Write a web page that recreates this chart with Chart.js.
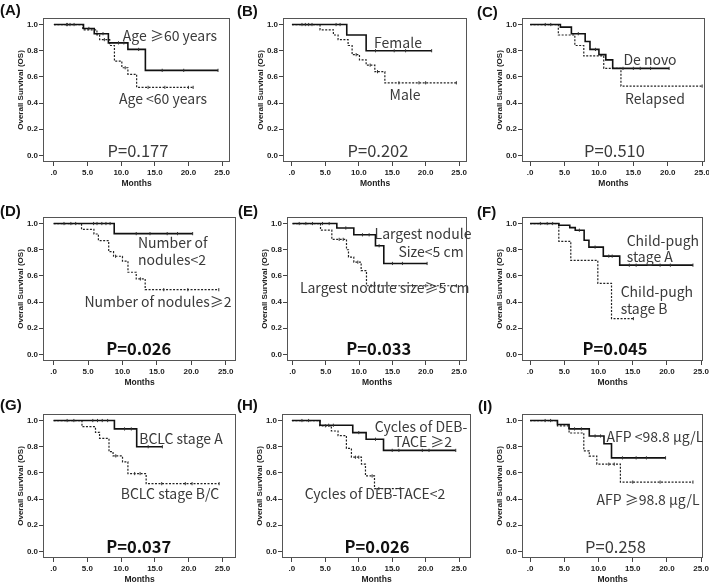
<!DOCTYPE html>
<html><head><meta charset="utf-8">
<script src="https://cdn.jsdelivr.net/npm/chart.js@4.4.1/dist/chart.umd.min.js"></script>
<style>
html,body{margin:0;padding:0;background:#fff;width:709px;height:584px;overflow:hidden;position:relative;}
canvas.cv{position:absolute;}
.lbl{position:absolute;font-family:"Noto Sans CJK SC","Noto Sans",sans-serif;color:#3a3a3a;white-space:nowrap;line-height:1;}
.pl{position:absolute;font-family:"Liberation Sans",Arial,sans-serif;font-weight:bold;font-size:15px;color:#111;line-height:1;transform:translate(0,-50%);}
</style></head><body>
<script>
// ---- axis ticks ----
const xTickValues = [0, 5, 10, 15, 20, 25];
const xTickLabels = ['.0', '5.0', '10.0', '15.0', '20.0', '25.0'];
const yTickValues = [0, 0.2, 0.4, 0.6, 0.8, 1.0];
const yTickLabels = ['0.0', '0.2', '0.4', '0.6', '0.8', '1.0'];

// ---- (A) Age ----
const A_ge60_t = [0, 4.4, 6.0, 8.1, 11.0, 13.6, 24.4];
const A_ge60_s = [1, 0.97, 0.93, 0.86, 0.81, 0.65, 0.65];
const A_ge60_c = [1.9, 2.4, 5.2, 7.3, 9.6, 10.4, 12.6, 16.1, 19.3, 24.4];
const A_lt60_t = [0, 4.3, 6.4, 6.8, 8.3, 9.0, 10.1, 11.0, 12.3, 20.7];
const A_lt60_s = [1, 0.96, 0.92, 0.885, 0.84, 0.72, 0.67, 0.62, 0.52, 0.52];
const A_lt60_c = [2.0, 3.0, 7.5, 10.6, 14.0, 16.5, 20.0, 20.7];
// ---- (B) Sex ----
const B_fem_t = [0, 8.2, 11.1, 20.9];
const B_fem_s = [1, 0.92, 0.80, 0.80];
const B_fem_c = [2.0, 3.0, 6.6, 7.2, 12.5, 15.3, 17.0, 20.9];
const B_male_t = [0, 4.2, 6.2, 6.9, 8.4, 9.0, 10.1, 11.1, 12.4, 13.9, 24.6];
const B_male_s = [1, 0.96, 0.92, 0.885, 0.84, 0.77, 0.73, 0.69, 0.64, 0.555, 0.555];
const B_male_c = [1.5, 2.5, 9.6, 11.7, 12.8, 16.0, 19.0, 20.0, 24.6];
// ---- (C) Disease status ----
const C_denovo_t = [0, 4.4, 6.0, 8.0, 8.7, 10.0, 11.0, 12.0, 20.2];
const C_denovo_s = [1, 0.98, 0.93, 0.87, 0.81, 0.77, 0.73, 0.665, 0.665];
const C_denovo_c = [2.2, 3.0, 7.0, 9.5, 13.5, 15.0, 16.0, 17.5, 20.2];
const C_rel_t = [0, 4.1, 6.5, 7.8, 10.7, 13.2, 25.0];
const C_rel_s = [1, 0.92, 0.84, 0.76, 0.665, 0.53, 0.53];
const C_rel_c = [25.0];
// ---- (D) Number of nodules ----
const D_lt2_t = [0, 8.8, 20.2];
const D_lt2_s = [1, 0.923, 0.923];
const D_lt2_c = [1.5, 2.5, 3.2, 5.8, 6.3, 7.0, 7.6, 8.2, 12.0, 14.0, 16.5, 18.0, 20.2];
const D_ge2_t = [0, 4.05, 5.85, 6.5, 8.0, 8.7, 10.0, 10.8, 12.0, 13.3, 24.0];
const D_ge2_s = [1, 0.956, 0.92, 0.87, 0.785, 0.75, 0.713, 0.628, 0.577, 0.495, 0.495];
const D_ge2_c = [9.0, 12.6, 16.0, 19.5, 24.0];
// ---- (E) Largest nodule size ----
const E_lt5_t = [0, 6.65, 9.2, 12.45, 13.7, 20.2];
const E_lt5_s = [1, 0.966, 0.914, 0.83, 0.695, 0.695];
const E_lt5_c = [1.0, 2.0, 3.0, 4.5, 5.5, 8.0, 10.5, 11.5, 13.0, 15.0, 16.5, 20.2];
const E_ge5_t = [0, 4.2, 5.9, 8.1, 8.4, 9.2, 10.3, 11.1, 24.6];
const E_ge5_s = [1, 0.949, 0.879, 0.80, 0.744, 0.705, 0.64, 0.525, 0.525];
const E_ge5_c = [7.0, 7.6, 9.8, 11.8, 13.0, 18.0, 20.0, 24.6];
// ---- (F) Child-pugh stage ----
const F_A_t = [0, 4.2, 5.8, 6.6, 7.9, 8.6, 10.7, 13.1, 23.8];
const F_A_s = [1, 0.987, 0.969, 0.949, 0.872, 0.82, 0.751, 0.682, 0.682];
const F_A_c = [1.5, 2.5, 3.3, 7.2, 9.5, 11.5, 12.0, 14.5, 15.5, 19.0, 20.5, 23.8];
const F_B_t = [0, 4.2, 5.95, 9.9, 11.9, 15.1];
const F_B_s = [1, 0.864, 0.718, 0.543, 0.274, 0.274];
const F_B_c = [15.1];
// ---- (G) BCLC stage ----
const G_A_t = [0, 9.0, 12.3, 16.1];
const G_A_s = [1, 0.936, 0.80, 0.80];
const G_A_c = [2.0, 3.0, 5.8, 6.5, 7.2, 8.0, 10.5, 11.5, 14.0, 16.1];
const G_BC_t = [0, 4.2, 6.2, 6.8, 8.2, 8.8, 10.2, 11.0, 13.7, 24.5];
const G_BC_s = [1, 0.953, 0.91, 0.864, 0.762, 0.73, 0.685, 0.595, 0.518, 0.518];
const G_BC_c = [9.2, 12.0, 12.8, 16.0, 19.5, 20.5, 24.5];
// ---- (H) Cycles of DEB-TACE ----
const H_ge2_t = [0, 4.2, 9.1, 11.1, 13.7, 24.5];
const H_ge2_s = [1, 0.964, 0.908, 0.857, 0.772, 0.772];
const H_ge2_c = [1.5, 2.5, 5.5, 6.2, 10.0, 12.5, 15.0, 16.0, 19.5, 20.5, 24.5];
const H_lt2_t = [0, 4.2, 5.9, 6.9, 8.15, 8.9, 10.4, 11.0, 12.35, 16.2];
const H_lt2_s = [1, 0.96, 0.92, 0.885, 0.787, 0.72, 0.667, 0.577, 0.48, 0.48];
const H_lt2_c = [5.0, 9.5, 10.0, 12.0, 13.0, 16.2];
// ---- (I) AFP ----
const I_lt_t = [0, 4.0, 5.7, 8.65, 10.8, 11.9, 19.8];
const I_lt_s = [1, 0.97, 0.936, 0.882, 0.823, 0.715, 0.715];
const I_lt_c = [2.2, 3.0, 6.5, 7.5, 9.5, 10.3, 13.5, 15.5, 17.0, 19.8];
const I_ge_t = [0, 4.0, 5.7, 7.85, 8.65, 9.75, 13.2, 23.8];
const I_ge_s = [1, 0.96, 0.905, 0.769, 0.728, 0.667, 0.53, 0.53];
const I_ge_c = [11.5, 12.3, 15.0, 19.0, 23.8];

// ---- panel layout (page boxes of plot areas, axis ranges) ----
const panels = [
  {box:[43,18,231,162],  xr:[-1.62,26.18], sol:[A_ge60_t,A_ge60_s,A_ge60_c], das:[A_lt60_t,A_lt60_s,A_lt60_c]},
  {box:[283,18,468,162], xr:[-1.34,26.19], sol:[B_fem_t,B_fem_s,B_fem_c], das:[B_male_t,B_male_s,B_male_c]},
  {box:[522,18,708,162], xr:[-1.18,25.4],  sol:[C_denovo_t,C_denovo_s,C_denovo_c], das:[C_rel_t,C_rel_s,C_rel_c]},
  {box:[43,217,237,361], xr:[-1.55,26.5],  sol:[D_lt2_t,D_lt2_s,D_lt2_c], das:[D_ge2_t,D_ge2_s,D_ge2_c]},
  {box:[287,217,468,361],xr:[-0.83,26.19], sol:[E_lt5_t,E_lt5_s,E_lt5_c], das:[E_ge5_t,E_ge5_s,E_ge5_c]},
  {box:[522,217,707,361],xr:[-1.18,25.29], sol:[F_A_t,F_A_s,F_A_c], das:[F_B_t,F_B_s,F_B_c]},
  {box:[43,414,237,558], xr:[-1.57,27.0],  sol:[G_A_t,G_A_s,G_A_c], das:[G_BC_t,G_BC_s,G_BC_c]},
  {box:[282,414,472,558],xr:[-1.48,26.78], sol:[H_ge2_t,H_ge2_s,H_ge2_c], das:[H_lt2_t,H_lt2_s,H_lt2_c]},
  {box:[522,414,707,558],xr:[-1.18,25.29], sol:[I_lt_t,I_lt_s,I_lt_c], das:[I_ge_t,I_ge_s,I_ge_c]}
];

const labels = [
  // text, x, y, size, bold, anchor
  ['Age ≥60 years',170,35,14,0,'c'], ['Age <60 years',163,97.7,14,0,'c'], ['P=0.177',138,150,16.5,0,'c'],
  ['Female',398,42.3,14,0,'c'], ['Male',405,94.3,14,0,'c'], ['P=0.202',378,150,16.5,0,'c'],
  ['De novo',650,59.3,14,0,'c'], ['Relapsed',655,97.7,14,0,'c'], ['P=0.510',614.5,150,16.5,0,'c'],
  ['Number of',138,241.7,14,0,'l'], ['nodules<2',138,259.3,14,0,'l'], ['Number of nodules≥2',158,301,14,0,'c'], ['P=0.026',138.7,348.3,16.5,1,'c'],
  ['Largest nodule',423,232.7,14,0,'c'], ['Size<5 cm',431,250.7,14,0,'c'], ['Largest nodule size≥5 cm',384.7,287.3,14,0,'c'], ['P=0.033',378.7,348.3,16.5,1,'c'],
  ['Child-pugh',626.7,240,14,0,'l'], ['stage A',626.7,255.5,14,0,'l'], ['Child-pugh',620.7,291,14,0,'l'], ['stage B',620.7,307.7,14,0,'l'], ['P=0.045',615,348.3,16.5,1,'c'],
  ['BCLC stage A',181,437.7,14,0,'c'], ['BCLC stage B/C',170,492.7,14,0,'c'], ['P=0.037',138.7,546,16.5,1,'c'],
  ['Cycles of DEB-',421,425.7,14,0,'c'], ['TACE ≥2',423,441,14,0,'c'], ['Cycles of DEB-TACE<2',375,493.3,14,0,'c'], ['P=0.026',377,546,16.5,1,'c'],
  ['AFP <98.8 μg/L',655,436,14,0,'c'], ['AFP ≥98.8 μg/L',648,499.3,14,0,'c'], ['P=0.258',615.5,546,16.5,0,'c']
];
const panelLetters = [['(A)',0,9],['(B)',237,10],['(C)',477,11],['(D)',0,210],['(E)',238,210],['(F)',477,211],['(G)',0,404],['(H)',237,404],['(I)',478,405]];

function survAt(t, s, time){ let v = s[0]; for (let i=0;i<t.length;i++){ if (t[i] <= time) v = s[i]; } return v; }

const boxPlugin = {id:'box', afterDraw(chart){ const {ctx, chartArea:a} = chart; ctx.save(); ctx.strokeStyle='#555'; ctx.lineWidth=1; ctx.strokeRect(Math.round(a.left)+0.5, Math.round(a.top)+0.5, Math.round(a.right-a.left)-1, Math.round(a.bottom-a.top)-1); ctx.restore(); }};

const PL = 44, PT = 8, PR = 4, PB = 30;
const tickFont = {family:'"Liberation Sans", Arial, sans-serif', size:8, weight:'bold'};
const titleFont = {family:'"Liberation Sans", Arial, sans-serif', size:8.5, weight:'bold'};

panels.forEach(p => {
  const [l,t,r,b] = p.box;
  const cv = document.createElement('canvas');
  cv.className = 'cv';
  const W = (r-l) + PL + PR, H = (b-t) + PT + PB;
  cv.width = W; cv.height = H;
  cv.style.left = (l-PL)+'px'; cv.style.top = (t-PT)+'px';
  cv.style.width = W+'px'; cv.style.height = H+'px';
  document.body.appendChild(cv);
  const mkLine = (g, dashed) => ({
    data: g[0].map((x,i)=>({x:x, y:g[1][i]})), stepped:true, borderColor: dashed ? '#222' : '#111',
    borderWidth: dashed ? 1.2 : 1.6, borderDash: dashed ? [2,1.5] : [], pointRadius:0, fill:false, order:1
  });
  const mkCens = (g) => ({
    data: g[2].map(x=>({x:x, y:survAt(g[0], g[1], x)})), showLine:false, pointStyle:'line', pointRotation:90,
    pointRadius:1.6, pointBorderWidth:1, pointBorderColor:'#333', borderColor:'#333', order:0
  });
  new Chart(cv, {
    type:'line',
    data:{datasets:[mkLine(p.sol,false), mkLine(p.das,true), mkCens(p.sol), mkCens(p.das)]},
    options:{
      animation:false, responsive:false, devicePixelRatio:1, events:[],
      layout:{padding:{left:0, top:PT, right:PR, bottom:0}},
      plugins:{legend:{display:false}, tooltip:{enabled:false}},
      scales:{
        x:{type:'linear', min:p.xr[0], max:p.xr[1],
          afterFit: s => { s.height = PB; },
          afterBuildTicks: s => { s.ticks = xTickValues.map(v=>({value:v})); },
          ticks:{callback:(v,i)=>xTickLabels[i], font:tickFont, color:'#222', padding:2, maxRotation:0, autoSkip:false},
          grid:{display:true, drawOnChartArea:false, drawTicks:true, tickLength:4, color:'#444'},
          border:{display:false},
          title:{display:true, text:'Months', font:titleFont, color:'#222', padding:{top:0, bottom:2.9}}
        },
        y:{type:'linear', min:-0.05, max:1.05,
          afterFit: s => { s.width = PL; },
          afterBuildTicks: s => { s.ticks = yTickValues.map(v=>({value:v})); },
          ticks:{callback:(v,i)=>yTickLabels[i], font:tickFont, color:'#222', padding:1, autoSkip:false},
          grid:{display:true, drawOnChartArea:false, drawTicks:true, tickLength:4, color:'#444'},
          border:{display:false},
          title:{display:true, text:'Overall Survival (OS)', font:{family:'"Liberation Sans", Arial, sans-serif', size:8, weight:'bold'}, color:'#222', padding:{top:17.2, bottom:0}}
        }
      }
    },
    plugins:[boxPlugin]
  });
});

labels.forEach(L => {
  const d = document.createElement('div');
  d.className = 'lbl';
  d.textContent = L[0];
  d.style.left = L[1]+'px'; d.style.top = L[2]+'px';
  d.style.fontSize = L[3]+'px';
  if (L[4]) { d.style.fontWeight = 'bold'; d.style.color = '#111'; }
  d.style.transform = L[5]==='c' ? 'translate(-50%,-50%)' : 'translate(0,-50%)';
  document.body.appendChild(d);
});
panelLetters.forEach(P => {
  const d = document.createElement('div');
  d.className = 'pl'; d.textContent = P[0];
  d.style.left = P[1]+'px'; d.style.top = P[2]+'px';
  document.body.appendChild(d);
});
</script>
</body></html>
